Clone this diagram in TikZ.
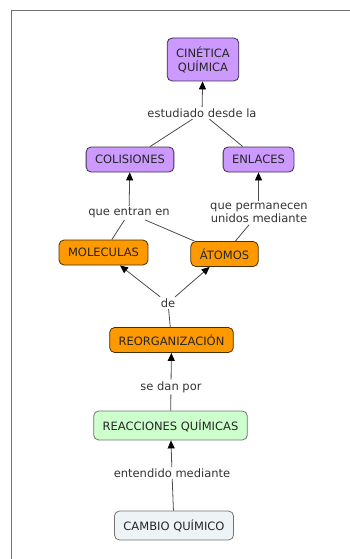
\documentclass[tikz,border=0pt]{standalone}
\usepackage{fontspec}
\setmainfont{DejaVu Sans}
\usetikzlibrary{arrows.meta}
\definecolor{lila}{RGB}{204,153,255}
\definecolor{naranja}{RGB}{255,153,0}
\definecolor{verde}{RGB}{204,255,204}
\definecolor{gris}{RGB}{238,243,245}
\begin{document}
\begin{tikzpicture}[x=1pt,y=-1pt,
  concept/.style={draw,rounded corners=5pt,line width=0.8pt,inner xsep=9pt,
    minimum height=25pt,align=center,text=black!85,
    font=\fontsize{11.5}{14}\selectfont},
  link/.style={inner sep=1.5pt,align=center,text=black!80,
    font=\fontsize{11.5}{13.5}\selectfont},
  con/.style={draw=black!70,line width=0.8pt},
  arr/.style={con,-{Triangle[width=7pt,length=8pt,color=black]}}]
\useasboundingbox (0,0) rectangle (350,559);
\draw[black!55,line width=1pt] (11,559) -- (11,11) -- (350,11);
% conceptos
\node[concept,fill=lila,draw=black!70!lila,minimum height=43pt] (cin) at (203,59.5) {CINÉTICA\\QUÍMICA};
\node[concept,fill=lila,draw=black!70!lila] (col) at (130,159.5) {COLISIONES};
\node[concept,fill=lila,draw=black!70!lila] (enl) at (258.5,159.5) {ENLACES};
\node[concept,fill=naranja,draw=black!70!naranja] (mol) at (103.5,252.5) {MOLECULAS};
\node[concept,fill=naranja,draw=black!70!naranja] (ato) at (224.5,254) {ÁTOMOS};
\node[concept,fill=naranja,draw=black!70!naranja] (reo) at (171.5,340) {REORGANIZACIÓN};
\node[concept,fill=verde,draw=black!55,minimum height=29pt] (rea) at (170.5,425.5) {REACCIONES QUÍMICAS};
\node[concept,fill=gris,draw=black!55,minimum height=29pt] (cam) at (174,525.5) {CAMBIO QUÍMICO};
% frases de enlace
\node[link] (est) at (202,113) {estudiado desde la};
\node[link] (ent) at (129,213) {que entran en};
\node[link] (per) at (259,213) {que permanecen\\unidos mediante};
\node[link] (de) at (168,303) {de};
\node[link] (dan) at (171,387) {se dan por};
\node[link] (med) at (172,473) {entendido mediante};
% conexiones
\draw[arr] (est) -- (cin);
\draw[con] (col) -- (est) (enl) -- (est);
\draw[arr] (ent) -- (col);
\draw[con] (mol) -- (ent) (ato) -- (ent);
\draw[arr] (per.north -| enl) -- (enl);
\draw[con] (ato) -- (per);
\draw[arr] (de) -- (mol);
\draw[arr] (de) -- (ato);
\draw[con] (reo) -- (de);
\draw[arr] (dan) -- (reo);
\draw[con] (rea) -- (dan);
\draw[arr] (med) -- (rea);
\draw[con] (cam) -- (med);
\end{tikzpicture}
\end{document}
